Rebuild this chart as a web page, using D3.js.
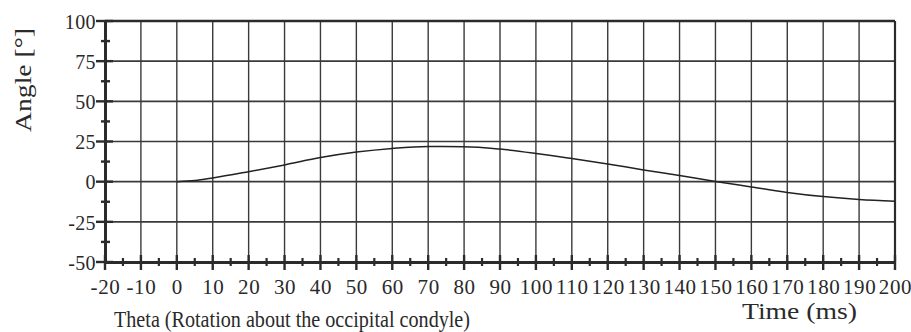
<!DOCTYPE html>
<html>
<head>
<meta charset="utf-8">
<script src="https://cdn.jsdelivr.net/npm/d3@7"></script>
<style>
  html, body { margin: 0; padding: 0; background: #fff; }
  svg { display: block; }
  svg text { font-family: "Liberation Serif", "Times New Roman", Tinos, Times, serif !important; fill: #2a2a2a; font-weight: normal; }
</style>
</head>
<body>
<svg id="chart" width="911" height="332"></svg>
<script>
// ---- data ----
const timeMs = [0, 5, 10, 20, 30, 40, 50, 60, 70, 80, 90, 100, 110, 120, 130, 140, 150, 160, 170, 180, 190, 200];
const thetaDeg = [0, 0.7, 2.3, 6.2, 10.4, 15.0, 18.4, 20.7, 21.9, 21.8, 20.3, 17.6, 14.4, 11.0, 7.3, 3.8, 0.1, -3.3, -6.7, -9.3, -11.1, -12.2];
const xTicks = [-20, -10, 0, 10, 20, 30, 40, 50, 60, 70, 80, 90, 100, 110, 120, 130, 140, 150, 160, 170, 180, 190, 200];
const xMinorTicks = [-15, -5, 5, 15, 25, 35, 45, 55, 65, 75, 85, 95, 105, 115, 125, 135, 145, 155, 165, 175, 185, 195];
const yTicks = [-50, -25, 0, 25, 50, 75, 100];
const yMinorTicks = [-37.5, -12.5, 12.5, 37.5, 62.5, 87.5];
const yTitle = "Angle [°]";
const xTitle = "Time (ms)";
const chartTitle = "Theta (Rotation about the occipital condyle)";

// ---- layout ----
const svg = d3.select("#chart");
const L = 105, R = 895, T = 21, B = 262;
const x = d3.scaleLinear().domain([-20, 200]).range([L, R]);
const y = d3.scaleLinear().domain([-50, 100]).range([B, T]);
const ink = "#2b2b2b";
const fmt = d => String(d);

// gridlines
svg.append("g").selectAll("line").data(xTicks.slice(1)).join("line")
  .attr("x1", d => x(d)).attr("x2", d => x(d)).attr("y1", T).attr("y2", B)
  .attr("stroke", "#3a3a3a").attr("stroke-width", 1.4);
svg.append("g").selectAll("line").data(yTicks.slice(1)).join("line")
  .attr("x1", L).attr("x2", R).attr("y1", d => y(d)).attr("y2", d => y(d))
  .attr("stroke", "#3a3a3a").attr("stroke-width", 1.6);

// frame
svg.append("line").attr("x1", L).attr("x2", R).attr("y1", T).attr("y2", T)
  .attr("stroke", ink).attr("stroke-width", 2.6);
svg.append("line").attr("x1", R).attr("x2", R).attr("y1", T).attr("y2", B)
  .attr("stroke", ink).attr("stroke-width", 2.2);

// Y axis
const yAxis = d3.axisLeft(y).tickValues(yTicks).tickSize(0).tickPadding(9).tickFormat(fmt);
const gy = svg.append("g").attr("transform", `translate(${L},0)`).call(yAxis)
  .attr("font-family", null).attr("font-size", null);
gy.select(".domain").attr("stroke", ink).attr("stroke-width", 3);
gy.selectAll("text").style("font-size", "20px").style("letter-spacing", "0.4px").attr("dy", "0.36em");
svg.append("g").selectAll("line").data(yTicks).join("line")
  .attr("x1", L - 9).attr("x2", L + 8).attr("y1", d => y(d)).attr("y2", d => y(d))
  .attr("stroke", ink).attr("stroke-width", 2.4);
svg.append("g").selectAll("line").data(yMinorTicks).join("line")
  .attr("x1", L - 4).attr("x2", L + 5).attr("y1", d => y(d)).attr("y2", d => y(d))
  .attr("stroke", ink).attr("stroke-width", 2.4);

// X axis
const xAxis = d3.axisBottom(x).tickValues(xTicks).tickSize(0).tickPadding(17).tickFormat(fmt);
const gx = svg.append("g").attr("transform", `translate(0,${B})`).call(xAxis)
  .attr("font-family", null).attr("font-size", null);
gx.select(".domain").attr("stroke", ink).attr("stroke-width", 3);
gx.selectAll("text").style("font-size", "21px").style("letter-spacing", "0.6px").attr("dy", "0.72em");
svg.append("g").selectAll("line").data(xTicks).join("line")
  .attr("x1", d => x(d)).attr("x2", d => x(d)).attr("y1", B - 7).attr("y2", B + 8)
  .attr("stroke", ink).attr("stroke-width", 2.4);
svg.append("g").selectAll("line").data(xMinorTicks).join("line")
  .attr("x1", d => x(d)).attr("x2", d => x(d)).attr("y1", B - 4).attr("y2", B + 4)
  .attr("stroke", ink).attr("stroke-width", 2.2);

// curve
const line = d3.line().x((d, i) => x(timeMs[i])).y(d => y(d)).curve(d3.curveMonotoneX);
svg.append("path").datum(thetaDeg).attr("d", line)
  .attr("fill", "none").attr("stroke", "#222").attr("stroke-width", 1.5);

// titles
svg.append("text").attr("transform", "translate(31,80) rotate(-90)")
  .attr("text-anchor", "middle").style("font-size", "23px")
  .attr("textLength", 104).attr("lengthAdjust", "spacingAndGlyphs")
  .text(yTitle);
svg.append("text").attr("x", 742).attr("y", 319).style("font-size", "23px")
  .attr("textLength", 115).attr("lengthAdjust", "spacingAndGlyphs")
  .text(xTitle);
svg.append("text").attr("x", 114).attr("y", 327).style("font-size", "23px")
  .attr("textLength", 356).attr("lengthAdjust", "spacingAndGlyphs")
  .text(chartTitle);
</script>
</body>
</html>
